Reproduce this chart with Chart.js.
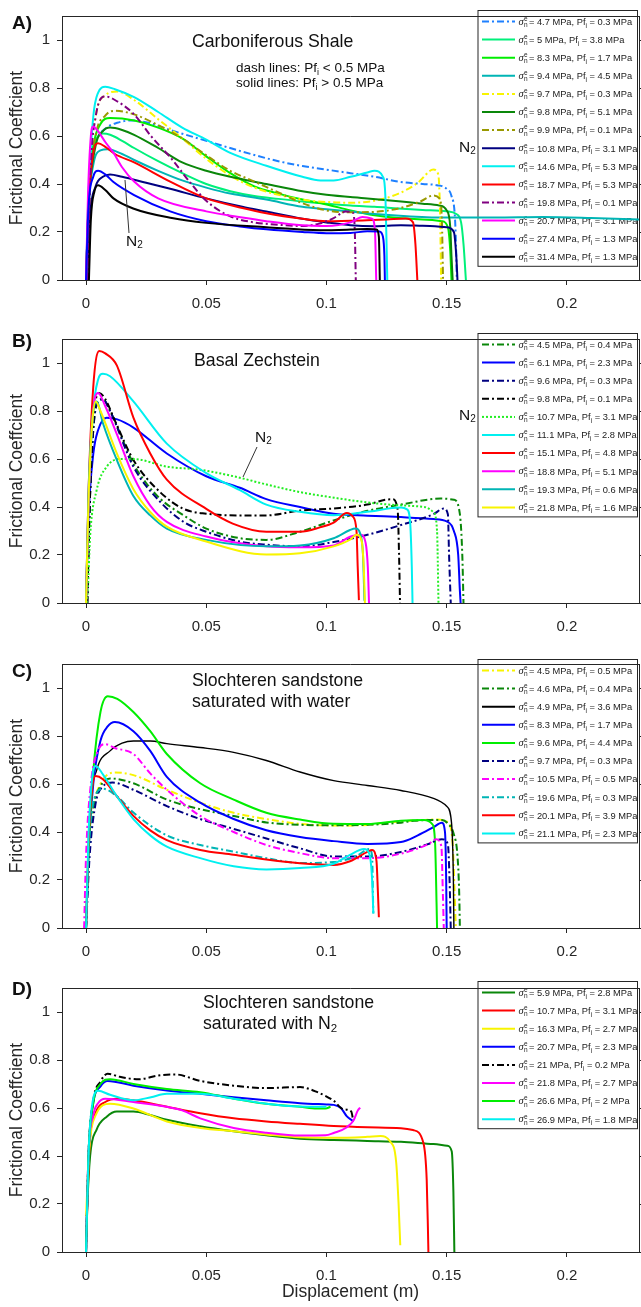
<!DOCTYPE html>
<html><head><meta charset="utf-8">
<script src="https://cdn.jsdelivr.net/npm/chart.js@4"></script>
<style>
html,body{margin:0;padding:0;background:#fff;}
body{width:641px;height:1307px;position:relative;overflow:hidden;}
.pn{position:absolute;left:0;width:641px;}
canvas{display:block;}
</style></head><body>
<div class="pn" id="wA"><canvas id="cA"></canvas></div>
<div class="pn" id="wB"><canvas id="cB"></canvas></div>
<div class="pn" id="wC"><canvas id="cC"></canvas></div>
<div class="pn" id="wD"><canvas id="cD"></canvas></div>
<script>
// ---------------- axes ----------------
const xTicks = [0, 0.05, 0.1, 0.15, 0.2];
const yTicks = [0, 0.2, 0.4, 0.6, 0.8, 1];

// ---------------- Panel A: Carboniferous Shale ----------------
const shaleSigma = [4.7, 5, 8.3, 9.4, 9.7, 9.8, 9.9, 10.8, 14.6, 18.7, 19.8, 20.7, 27.4, 31.4];
const shalePf    = [0.3, 3.8, 1.7, 4.5, 0.3, 5.1, 0.1, 3.1, 5.3, 5.3, 0.1, 3.1, 1.3, 1.3];
const shale47  = [[0.0005,0],[0.001,0.25],[0.002,0.45],[0.004,0.57],[0.008,0.63],[0.013,0.655],[0.019,0.665],[0.026,0.655],[0.035,0.625],[0.05,0.58],[0.065,0.535],[0.08,0.495],[0.09,0.475],[0.1,0.46],[0.11,0.445],[0.12,0.43],[0.13,0.41],[0.14,0.4],[0.146,0.395],[0.15,0.38],[0.152,0.35],[0.1535,0.25],[0.154,0.1],[0.1542,0]];
const shale5   = [[0,0],[0.0008,0.3],[0.002,0.5],[0.004,0.58],[0.007,0.61],[0.01,0.605],[0.015,0.58],[0.02,0.55],[0.03,0.495],[0.04,0.445],[0.05,0.4],[0.06,0.37],[0.07,0.35],[0.08,0.338],[0.09,0.327],[0.1,0.318],[0.11,0.31],[0.12,0.305],[0.13,0.298],[0.14,0.292],[0.15,0.286],[0.154,0.275],[0.156,0.24],[0.157,0.15],[0.158,0]];
const shale83  = [[0,0],[0.001,0.3],[0.003,0.55],[0.006,0.65],[0.01,0.675],[0.02,0.665],[0.03,0.635],[0.04,0.59],[0.05,0.515],[0.06,0.445],[0.07,0.39],[0.08,0.36],[0.09,0.335],[0.1,0.315],[0.11,0.29],[0.12,0.27],[0.13,0.258],[0.14,0.252],[0.148,0.245],[0.1505,0.22],[0.1515,0.12],[0.152,0]];
const shale94  = [[0,0],[0.001,0.3],[0.003,0.48],[0.006,0.54],[0.009,0.545],[0.015,0.525],[0.02,0.5],[0.03,0.455],[0.04,0.415],[0.05,0.385],[0.06,0.36],[0.075,0.335],[0.09,0.305],[0.1,0.295],[0.11,0.285],[0.12,0.275],[0.135,0.265],[0.15,0.26],[0.17,0.26],[0.19,0.262],[0.21,0.258],[0.235,0.25]];
const shale97  = [[0.0008,0],[0.0015,0.4],[0.004,0.68],[0.008,0.77],[0.013,0.785],[0.02,0.75],[0.03,0.67],[0.04,0.59],[0.05,0.505],[0.06,0.435],[0.07,0.385],[0.08,0.355],[0.09,0.335],[0.1,0.325],[0.11,0.322],[0.12,0.33],[0.13,0.36],[0.138,0.405],[0.1445,0.46],[0.1465,0.44],[0.1472,0.3],[0.1477,0]];
const shale98  = [[0,0],[0.001,0.3],[0.004,0.56],[0.007,0.62],[0.01,0.635],[0.015,0.625],[0.02,0.605],[0.03,0.55],[0.04,0.49],[0.05,0.455],[0.06,0.43],[0.075,0.4],[0.09,0.37],[0.1,0.355],[0.117,0.34],[0.13,0.328],[0.14,0.318],[0.147,0.31],[0.15,0.29],[0.1515,0.22],[0.152,0.1],[0.1525,0]];
const shale99  = [[0.0008,0],[0.0015,0.35],[0.004,0.6],[0.008,0.685],[0.012,0.705],[0.02,0.69],[0.03,0.645],[0.04,0.59],[0.05,0.52],[0.06,0.455],[0.07,0.41],[0.08,0.365],[0.09,0.32],[0.1,0.29],[0.11,0.282],[0.12,0.284],[0.13,0.298],[0.139,0.327],[0.1445,0.352],[0.147,0.34],[0.148,0.25],[0.1485,0]];
const shale108 = [[0.0005,0],[0.0015,0.25],[0.004,0.39],[0.007,0.43],[0.01,0.44],[0.015,0.43],[0.025,0.405],[0.035,0.38],[0.05,0.34],[0.065,0.305],[0.075,0.285],[0.09,0.255],[0.1,0.24],[0.11,0.228],[0.12,0.224],[0.131,0.228],[0.14,0.226],[0.15,0.22],[0.153,0.2],[0.154,0.1],[0.1545,0]];
const shale146 = [[0,0],[0.001,0.35],[0.003,0.68],[0.005,0.78],[0.008,0.805],[0.012,0.795],[0.02,0.762],[0.03,0.7],[0.04,0.635],[0.05,0.585],[0.06,0.53],[0.075,0.476],[0.09,0.43],[0.0975,0.415],[0.103,0.415],[0.11,0.43],[0.117,0.448],[0.12,0.455],[0.1235,0.43],[0.1245,0.35],[0.125,0.15],[0.1253,0]];
const shale187 = [[0,0],[0.001,0.3],[0.003,0.53],[0.005,0.57],[0.008,0.555],[0.012,0.525],[0.02,0.49],[0.035,0.41],[0.05,0.34],[0.065,0.3],[0.075,0.278],[0.09,0.255],[0.1,0.245],[0.115,0.248],[0.125,0.252],[0.133,0.256],[0.136,0.24],[0.137,0.15],[0.1378,0]];
const shale198 = [[0.0008,0],[0.0015,0.35],[0.004,0.68],[0.008,0.765],[0.012,0.75],[0.02,0.69],[0.027,0.6],[0.036,0.5],[0.043,0.41],[0.05,0.33],[0.06,0.265],[0.07,0.24],[0.08,0.23],[0.09,0.225],[0.097,0.235],[0.103,0.258],[0.108,0.285],[0.111,0.28],[0.1118,0.2],[0.1122,0]];
const shale207 = [[0,0],[0.0008,0.35],[0.002,0.6],[0.003,0.64],[0.005,0.62],[0.008,0.575],[0.0114,0.53],[0.015,0.47],[0.02,0.41],[0.03,0.34],[0.05,0.286],[0.065,0.26],[0.075,0.245],[0.09,0.228],[0.1,0.225],[0.11,0.24],[0.115,0.262],[0.119,0.255],[0.1202,0.2],[0.1207,0]];
const shale274 = [[0,0],[0.001,0.3],[0.003,0.43],[0.005,0.455],[0.008,0.44],[0.0114,0.408],[0.02,0.354],[0.035,0.286],[0.05,0.245],[0.065,0.222],[0.075,0.211],[0.09,0.2],[0.1,0.195],[0.11,0.196],[0.117,0.203],[0.122,0.202],[0.1235,0.18],[0.1241,0.1],[0.1243,0]];
const shale314 = [[0.0012,0],[0.002,0.25],[0.0035,0.37],[0.005,0.395],[0.008,0.375],[0.0114,0.34],[0.0196,0.298],[0.0357,0.258],[0.05,0.238],[0.075,0.22],[0.0975,0.207],[0.11,0.21],[0.117,0.213],[0.1208,0.21],[0.1218,0.18],[0.1222,0]];
const shaleCurves = [shale47, shale5, shale83, shale94, shale97, shale98, shale99, shale108, shale146, shale187, shale198, shale207, shale274, shale314];
const shaleColors = ['#1e80ff','#00f07a','#00ee00','#00b5b5','#f8f400','#0a870a','#999900','#000080','#00f0f0','#ff0000','#800080','#ff00ff','#0000ff','#000000'];
const shaleStyle  = ['dd','s','s','s','dd','s','dd','s','s','s','dd','s','s','s'];

// ---------------- Panel B: Basal Zechstein ----------------
const zechSigma = [4.5, 6.1, 9.6, 9.8, 10.7, 11.1, 15.1, 18.8, 19.3, 21.8];
const zechPf    = [0.4, 2.3, 0.3, 0.1, 3.1, 2.8, 4.8, 5.1, 0.6, 1.6];
const zech45  = [[0.0005,0],[0.0015,0.4],[0.003,0.72],[0.005,0.84],[0.007,0.85],[0.01,0.8],[0.0197,0.58],[0.025,0.5],[0.031,0.433],[0.0406,0.365],[0.05,0.31],[0.064,0.27],[0.075,0.263],[0.089,0.297],[0.1033,0.345],[0.117,0.384],[0.131,0.41],[0.1475,0.435],[0.153,0.43],[0.1555,0.37],[0.1565,0.2],[0.157,0]];
const zech61  = [[0,0],[0.001,0.35],[0.003,0.62],[0.005,0.72],[0.0086,0.772],[0.013,0.765],[0.0197,0.731],[0.0336,0.623],[0.05,0.528],[0.064,0.48],[0.075,0.433],[0.089,0.4],[0.103,0.372],[0.117,0.364],[0.131,0.358],[0.1445,0.35],[0.15,0.34],[0.153,0.3],[0.1548,0.2],[0.1555,0.05],[0.1558,0]];
const zech96  = [[0.0005,0],[0.0015,0.4],[0.003,0.72],[0.005,0.84],[0.007,0.848],[0.01,0.8],[0.0197,0.568],[0.031,0.42],[0.0406,0.338],[0.05,0.297],[0.064,0.256],[0.075,0.243],[0.089,0.236],[0.103,0.254],[0.117,0.284],[0.131,0.325],[0.1445,0.37],[0.1488,0.394],[0.1505,0.37],[0.151,0.2],[0.1517,0]];
const zech98  = [[0.0005,0],[0.0015,0.4],[0.003,0.75],[0.0055,0.875],[0.008,0.85],[0.012,0.76],[0.0197,0.596],[0.031,0.46],[0.0406,0.392],[0.05,0.372],[0.064,0.365],[0.075,0.365],[0.089,0.385],[0.103,0.394],[0.117,0.41],[0.1244,0.43],[0.1275,0.432],[0.1296,0.39],[0.1302,0.2],[0.1306,0]];
const zech107 = [[0.0003,0],[0.0008,0.066],[0.0017,0.28],[0.0044,0.47],[0.0086,0.568],[0.0142,0.6],[0.0197,0.6],[0.0336,0.568],[0.0475,0.555],[0.0614,0.528],[0.075,0.494],[0.089,0.462],[0.103,0.439],[0.117,0.419],[0.131,0.407],[0.1407,0.4],[0.1445,0.378],[0.146,0.3],[0.1466,0]];
const zech111 = [[0,0],[0.001,0.4],[0.003,0.8],[0.005,0.93],[0.007,0.955],[0.01,0.945],[0.0197,0.84],[0.0336,0.664],[0.05,0.541],[0.064,0.47],[0.075,0.41],[0.089,0.38],[0.103,0.366],[0.117,0.38],[0.131,0.398],[0.1335,0.39],[0.1348,0.337],[0.1355,0.15],[0.1358,0]];
const zech151 = [[0,0],[0.001,0.45],[0.003,0.9],[0.0055,1.05],[0.008,1.04],[0.0128,0.99],[0.0197,0.772],[0.0267,0.623],[0.0336,0.514],[0.05,0.392],[0.061,0.331],[0.075,0.297],[0.089,0.297],[0.0973,0.315],[0.103,0.335],[0.1085,0.375],[0.111,0.36],[0.1125,0.3],[0.113,0.15],[0.1135,0.012]];
const zech188 = [[0,0],[0.001,0.4],[0.0025,0.75],[0.005,0.875],[0.008,0.82],[0.0128,0.704],[0.0197,0.528],[0.0267,0.406],[0.0336,0.338],[0.05,0.277],[0.075,0.236],[0.089,0.232],[0.103,0.24],[0.1098,0.276],[0.1142,0.284],[0.1163,0.25],[0.1172,0.15],[0.1177,0]];
const zech193 = [[0,0],[0.001,0.45],[0.0025,0.75],[0.0045,0.84],[0.007,0.75],[0.0128,0.596],[0.0197,0.446],[0.0267,0.365],[0.0336,0.31],[0.05,0.263],[0.075,0.236],[0.089,0.24],[0.103,0.27],[0.1098,0.304],[0.1121,0.31],[0.114,0.29],[0.1152,0.2],[0.1158,0.01]];
const zech218 = [[0,0],[0.001,0.42],[0.0025,0.74],[0.004,0.84],[0.006,0.8],[0.0128,0.623],[0.0197,0.474],[0.0267,0.379],[0.0336,0.318],[0.05,0.256],[0.075,0.202],[0.089,0.207],[0.103,0.236],[0.1098,0.264],[0.1125,0.284],[0.1146,0.26],[0.1155,0.15],[0.116,0]];
const zechCurves = [zech45, zech61, zech96, zech98, zech107, zech111, zech151, zech188, zech193, zech218];
const zechColors = ['#0a870a','#0000ff','#000080','#000000','#22ee22','#00f0f0','#ff0000','#ff00ff','#00b5b5','#f8f400'];
const zechStyle  = ['dd','s','dd','dd','dot','s','s','s','s','s'];

// ---------------- Panel C: Slochteren sandstone, water ----------------
const waterSigma = [4.5, 4.6, 4.9, 8.3, 9.6, 9.7, 10.5, 19.6, 20.1, 21.1];
const waterPf    = [0.5, 0.4, 3.6, 1.7, 4.4, 0.3, 0.5, 0.3, 3.9, 2.3];
const water45  = [[0,0],[0.001,0.3],[0.003,0.5],[0.006,0.6],[0.012,0.648],[0.0197,0.637],[0.0336,0.576],[0.0475,0.522],[0.0614,0.48],[0.075,0.454],[0.089,0.434],[0.103,0.427],[0.117,0.429],[0.1225,0.436],[0.1364,0.448],[0.146,0.452],[0.1505,0.44],[0.1525,0.35],[0.1533,0.15],[0.1538,0]];
const water46  = [[0,0],[0.001,0.3],[0.003,0.5],[0.006,0.59],[0.01,0.623],[0.0197,0.603],[0.0336,0.535],[0.0475,0.495],[0.0614,0.467],[0.075,0.44],[0.089,0.43],[0.103,0.428],[0.117,0.43],[0.131,0.439],[0.1364,0.447],[0.148,0.45],[0.1505,0.435],[0.153,0.39],[0.1545,0.3],[0.1552,0.15],[0.1555,0]];
const water49  = [[0,0],[0.0017,0.495],[0.0044,0.657],[0.01,0.738],[0.015,0.77],[0.0197,0.779],[0.0267,0.779],[0.0336,0.768],[0.0475,0.752],[0.0614,0.732],[0.075,0.698],[0.089,0.65],[0.103,0.614],[0.117,0.594],[0.131,0.573],[0.1445,0.54],[0.15,0.507],[0.152,0.44],[0.1528,0.2],[0.153,0]];
const water83  = [[0,0],[0.001,0.3],[0.003,0.6],[0.006,0.78],[0.009,0.84],[0.012,0.858],[0.0197,0.82],[0.0267,0.738],[0.0336,0.63],[0.0475,0.522],[0.0614,0.454],[0.075,0.407],[0.089,0.379],[0.103,0.362],[0.117,0.35],[0.131,0.358],[0.138,0.386],[0.1445,0.42],[0.148,0.439],[0.1493,0.4],[0.1498,0.2],[0.15,0]];
const water96  = [[0,0],[0.001,0.3],[0.003,0.65],[0.006,0.9],[0.009,0.966],[0.013,0.955],[0.0197,0.9],[0.0267,0.82],[0.0336,0.725],[0.0475,0.603],[0.0614,0.535],[0.075,0.48],[0.089,0.452],[0.103,0.434],[0.117,0.433],[0.131,0.447],[0.1405,0.45],[0.144,0.433],[0.1452,0.35],[0.1458,0.1],[0.146,0]];
const water97  = [[0,0],[0.0015,0.3],[0.004,0.52],[0.007,0.59],[0.011,0.606],[0.0197,0.576],[0.0336,0.508],[0.0475,0.454],[0.0614,0.413],[0.075,0.373],[0.089,0.332],[0.103,0.298],[0.117,0.298],[0.131,0.317],[0.1424,0.35],[0.148,0.37],[0.1505,0.35],[0.1512,0.2],[0.1517,0]];
const water105 = [[-0.0008,0],[0,0.3],[0.002,0.6],[0.005,0.74],[0.008,0.766],[0.012,0.75],[0.0197,0.725],[0.0267,0.644],[0.0336,0.576],[0.0475,0.467],[0.0614,0.4],[0.075,0.346],[0.089,0.312],[0.103,0.291],[0.117,0.291],[0.131,0.31],[0.1424,0.35],[0.1457,0.37],[0.1478,0.34],[0.1484,0.15],[0.1488,0]];
const water196 = [[0,0],[0.001,0.3],[0.003,0.52],[0.007,0.58],[0.0128,0.549],[0.0197,0.481],[0.0336,0.386],[0.0475,0.346],[0.0614,0.318],[0.075,0.291],[0.089,0.271],[0.103,0.275],[0.1125,0.3],[0.1178,0.329],[0.119,0.3],[0.1193,0.15],[0.1195,0.06]];
const water201 = [[0,0],[0.001,0.35],[0.0025,0.58],[0.004,0.633],[0.007,0.62],[0.0128,0.549],[0.0197,0.467],[0.0267,0.407],[0.0336,0.366],[0.0475,0.325],[0.0614,0.305],[0.075,0.285],[0.089,0.27],[0.103,0.263],[0.1098,0.278],[0.117,0.317],[0.119,0.325],[0.1208,0.28],[0.1214,0.15],[0.1218,0.045]];
const water211 = [[0,0],[0.001,0.38],[0.0025,0.62],[0.004,0.675],[0.007,0.64],[0.0128,0.549],[0.0197,0.454],[0.0267,0.386],[0.0336,0.339],[0.0475,0.291],[0.0614,0.257],[0.075,0.244],[0.089,0.25],[0.103,0.268],[0.1098,0.305],[0.1156,0.329],[0.1178,0.31],[0.119,0.2],[0.1195,0.061]];
const waterCurves = [water45, water46, water49, water83, water96, water97, water105, water196, water201, water211];
const waterColors = ['#f8f400','#0a870a','#000000','#0000ff','#00ee00','#000080','#ff00ff','#00b5b5','#ff0000','#00f0f0'];
const waterStyle  = ['dd','dd','s','s','s','dd','dd','dd','s','s'];

// ---------------- Panel D: Slochteren sandstone, N2 ----------------
const nitroSigma = [5.9, 10.7, 16.3, 20.7, 21, 21.8, 26.6, 26.9];
const nitroPf    = [2.8, 3.1, 2.7, 2.3, 0.2, 2.7, 2, 1.8];
const nitro59  = [[0,0],[0.0005,0.185],[0.0017,0.4],[0.0044,0.51],[0.0086,0.564],[0.0128,0.585],[0.0197,0.585],[0.0267,0.571],[0.0336,0.551],[0.0475,0.524],[0.0614,0.503],[0.075,0.486],[0.089,0.472],[0.103,0.467],[0.117,0.463],[0.131,0.459],[0.1445,0.45],[0.1502,0.443],[0.1521,0.42],[0.1528,0.25],[0.1532,0]];
const nitro107 = [[0,0.03],[0.0015,0.45],[0.004,0.58],[0.008,0.625],[0.013,0.639],[0.0197,0.632],[0.0336,0.605],[0.0475,0.578],[0.0614,0.557],[0.075,0.544],[0.089,0.534],[0.103,0.525],[0.117,0.52],[0.131,0.516],[0.136,0.508],[0.1403,0.455],[0.1417,0.3],[0.1422,0.1],[0.1424,0]];
const nitro163 = [[0,0.15],[0.0015,0.45],[0.004,0.57],[0.01,0.618],[0.0197,0.598],[0.0336,0.544],[0.0475,0.517],[0.0614,0.503],[0.075,0.49],[0.089,0.478],[0.103,0.476],[0.117,0.48],[0.1225,0.483],[0.1265,0.46],[0.129,0.374],[0.13,0.2],[0.1307,0.028]];
const nitro207 = [[0,0],[0.001,0.4],[0.003,0.62],[0.006,0.69],[0.009,0.713],[0.0197,0.693],[0.0336,0.673],[0.0475,0.659],[0.0614,0.645],[0.075,0.632],[0.089,0.62],[0.1,0.615],[0.103,0.613],[0.106,0.6],[0.1085,0.565],[0.1113,0.544]];
const nitro21  = [[0,0],[0.001,0.4],[0.003,0.63],[0.006,0.71],[0.009,0.743],[0.014,0.73],[0.022,0.72],[0.03,0.735],[0.037,0.74],[0.0475,0.713],[0.0614,0.693],[0.075,0.683],[0.089,0.687],[0.096,0.667],[0.103,0.63],[0.107,0.595],[0.1103,0.585],[0.1111,0.55]];
const nitro218 = [[0,0],[0.001,0.4],[0.003,0.57],[0.005,0.62],[0.008,0.639],[0.0197,0.625],[0.0336,0.605],[0.04,0.59],[0.0475,0.557],[0.0614,0.517],[0.075,0.497],[0.089,0.485],[0.0996,0.486],[0.103,0.496],[0.1085,0.52],[0.1113,0.549],[0.113,0.589],[0.114,0.602]];
const nitro266 = [[0,0],[0.001,0.4],[0.003,0.62],[0.006,0.7],[0.01,0.72],[0.0197,0.7],[0.0336,0.679],[0.0475,0.666],[0.0614,0.639],[0.075,0.618],[0.089,0.605],[0.096,0.598],[0.0996,0.598],[0.1017,0.605]];
const nitro269 = [[0,0],[0.001,0.4],[0.003,0.64],[0.005,0.672],[0.01,0.655],[0.0197,0.632],[0.027,0.645],[0.0336,0.659],[0.0475,0.659],[0.0614,0.639],[0.075,0.618],[0.089,0.606],[0.097,0.605],[0.1,0.605]];
const nitroCurves = [nitro59, nitro107, nitro163, nitro207, nitro21, nitro218, nitro266, nitro269];
const nitroColors = ['#0a870a','#ff0000','#f8f400','#0000ff','#000000','#ff00ff','#00ee00','#00f0f0'];
const nitroStyle  = ['s','s','s','s','dd','s','s','s'];

// ---------------- rendering ----------------
const FF = '"Liberation Sans", Arial, Helvetica, sans-serif';
const AX = '#262626';
Chart.defaults.font.family = FF;
const DASH = {s: [], dd: [7,3,2,3], dot: [2,2]};

function fmt(v){ return v === 0 ? '0' : String(+v.toFixed(2)); }

function rich(ctx, x, y, parts){
  for (const p of parts){
    ctx.font = (p.b ? 'bold ' : '') + p.s + 'px ' + FF;
    ctx.fillText(p.t, x, y + (p.dy || 0));
    x += ctx.measureText(p.t).width;
  }
}
function richW(ctx, x, y, parts){
  for (const p of parts){
    ctx.font = p.s + 'px ' + FF;
    ctx.fillText(p.t, x, y + (p.dy || 0));
    x += ctx.measureText(p.t).width;
  }
  return x;
}

const decor = {
  id: 'decor',
  beforeDatasetsDraw(chart, args, o){
    const ctx = chart.ctx, top = o.canvasTop;
    const n = chart.data.datasets.length, sp = 18.1;
    const L = 477.5, R = 638, T = o.legendTop - top;
    const H = 11.5 + (n - 1) * sp + 10;
    ctx.save();
    ctx.fillStyle = '#fff'; ctx.fillRect(L, T, R - L, H);
    ctx.strokeStyle = AX; ctx.lineWidth = 1; ctx.strokeRect(L + 0.5, T + 0.5, R - L - 1, H - 1);
    chart.data.datasets.forEach((ds, i) => {
      const y = T + 11.5 + i * sp;
      ctx.beginPath(); ctx.setLineDash(ds.borderDash || []);
      ctx.lineWidth = 2; ctx.strokeStyle = ds.borderColor;
      ctx.moveTo(L + 4.5, y); ctx.lineTo(L + 37.5, y); ctx.stroke();
      ctx.setLineDash([]);
      ctx.fillStyle = '#1a1a1a'; ctx.textBaseline = 'alphabetic';
      let x = L + 41;
      ctx.font = 'italic 10.5px "Liberation Serif", serif';
      ctx.fillText('σ', x, y + 3);
      x += ctx.measureText('σ').width + 0.3;
      ctx.font = '6.5px ' + FF;
      ctx.fillText('e', x, y - 0.7);
      ctx.fillText('n', x, y + 5.5);
      x += ctx.measureText('n').width + 1.3;
      richW(ctx, x, y, [
        {t: '= ' + ds.sig + ' MPa, Pf', s: 9.3, dy: 3.3},
        {t: 'i', s: 6.5, dy: 6},
        {t: ' = ' + ds.pf + ' MPa', s: 9.3, dy: 3.3}
      ]);
    });
    ctx.restore();
  },
  afterDatasetsDraw(chart, args, o){
    const ctx = chart.ctx, ca = chart.chartArea, top = o.canvasTop;
    ctx.save();
    ctx.strokeStyle = AX; ctx.lineWidth = 1;
    ctx.beginPath();
    ctx.moveTo(ca.left, Math.round(ca.top) + 0.5); ctx.lineTo(ca.right + 0.5, Math.round(ca.top) + 0.5);
    ctx.moveTo(Math.round(ca.right) + 0.5, ca.top); ctx.lineTo(Math.round(ca.right) + 0.5, ca.bottom);
    const ys = chart.scales.y;
    for (const v of yTicks){
      const py = Math.round(ys.getPixelForValue(v)) + 0.5;
      ctx.moveTo(ca.right, py); ctx.lineTo(ca.right + 5, py);
    }
    ctx.stroke();
    ctx.fillStyle = '#111'; ctx.textBaseline = 'alphabetic';
    for (const t of o.texts){ rich(ctx, t.x, t.y - top, t.parts); }
    ctx.strokeStyle = '#333'; ctx.lineWidth = 1;
    for (const l of o.lines){
      ctx.beginPath(); ctx.moveTo(l[0], l[1] - top); ctx.lineTo(l[2], l[3] - top); ctx.stroke();
    }
    ctx.restore();
  }
};

function N2(x, y){ return {x, y, parts: [{t: 'N', s: 15.5}, {t: '2', s: 10, dy: 2}]}; }

function makePanel(id, wrapId, top, height, curves, sig, pf, colors, style, extra){
  const wrap = document.getElementById(wrapId);
  wrap.style.top = top + 'px'; wrap.style.height = height + 'px';
  const canvas = document.getElementById(id);
  canvas.width = 641; canvas.height = height;
  canvas.style.width = '641px'; canvas.style.height = height + 'px';
  const xH = height - 280;
  const datasets = curves.map((c, i) => ({
    data: c, sig: sig[i], pf: pf[i],
    borderColor: colors[i], backgroundColor: colors[i],
    borderDash: DASH[style[i]],
    borderWidth: extra.thin && extra.thin.includes(i) ? 1.4 : 2,
    order: -i, fill: false, pointRadius: 0
  }));
  new Chart(canvas, {
    type: 'line',
    data: {datasets},
    options: {
      responsive: false, animation: false, devicePixelRatio: 1,
      layout: {padding: {top: 9, right: 2, left: 0, bottom: 0}},
      events: [],
      elements: {point: {radius: 0}, line: {cubicInterpolationMode: 'monotone', borderCapStyle: 'butt'}},
      plugins: {
        legend: {display: false}, tooltip: {enabled: false},
        decor: {canvasTop: top, legendTop: extra.legendTop, texts: extra.texts, lines: extra.lines || []}
      },
      scales: {
        x: {
          type: 'linear', min: -0.01, max: 0.23,
          afterFit: s => { s.height = xH; },
          afterBuildTicks: s => { s.ticks = xTicks.map(v => ({value: v})); },
          ticks: {font: {size: 15}, color: AX, padding: 10, maxRotation: 0, autoSkip: false, callback: v => fmt(v)},
          grid: {drawOnChartArea: false, drawTicks: true, tickLength: 5, color: AX},
          border: {display: true, color: AX, width: 1},
          title: {display: !!extra.xTitle, text: 'Displacement (m)', color: AX, font: {size: 17.5}, padding: {top: 0, bottom: 4}}
        },
        y: {
          min: 0, max: 1.1,
          afterFit: s => { s.width = 62; },
          afterBuildTicks: s => { s.ticks = yTicks.map(v => ({value: v})); },
          ticks: {font: {size: 15}, color: AX, padding: 7, callback: v => fmt(v)},
          grid: {drawOnChartArea: false, drawTicks: true, tickLength: 5, color: AX},
          border: {display: true, color: AX, width: 1},
          title: {display: true, text: 'Frictional Coeffcient', color: AX, font: {size: 17.5}, padding: {top: 7, bottom: 0}}
        }
      }
    },
    plugins: [decor]
  });
}

makePanel('cA', 'wA', 0, 323, shaleCurves, shaleSigma, shalePf, shaleColors, shaleStyle, {
  legendTop: 10,
  texts: [
    {x: 12, y: 29, parts: [{t: 'A)', s: 19, b: true}]},
    {x: 192, y: 47, parts: [{t: 'Carboniferous Shale', s: 17.7}]},
    {x: 236, y: 72, parts: [{t: 'dash lines: Pf', s: 13.5}, {t: 'i', s: 9, dy: 3}, {t: ' < 0.5 MPa', s: 13.5}]},
    {x: 236, y: 87, parts: [{t: 'solid lines: Pf', s: 13.5}, {t: 'i', s: 9, dy: 3}, {t: ' > 0.5 MPa', s: 13.5}]},
    N2(126, 246), N2(459, 152)
  ],
  lines: [[129, 233, 125, 180]]
});
makePanel('cB', 'wB', 323, 325, zechCurves, zechSigma, zechPf, zechColors, zechStyle, {
  legendTop: 333,
  texts: [
    {x: 12, y: 347, parts: [{t: 'B)', s: 19, b: true}]},
    {x: 194, y: 366, parts: [{t: 'Basal Zechstein', s: 17.7}]},
    N2(255, 442), N2(459, 420)
  ],
  lines: [[257, 447, 243, 477]]
});
makePanel('cC', 'wC', 648, 324, waterCurves, waterSigma, waterPf, waterColors, waterStyle, {
  legendTop: 659, thin: [2],
  texts: [
    {x: 12, y: 677, parts: [{t: 'C)', s: 19, b: true}]},
    {x: 192, y: 686, parts: [{t: 'Slochteren sandstone', s: 17.7}]},
    {x: 192, y: 707, parts: [{t: 'saturated with water', s: 17.7}]}
  ]
});
makePanel('cD', 'wD', 972, 335, nitroCurves, nitroSigma, nitroPf, nitroColors, nitroStyle, {
  legendTop: 981, xTitle: true,
  texts: [
    {x: 12, y: 995, parts: [{t: 'D)', s: 19, b: true}]},
    {x: 203, y: 1008, parts: [{t: 'Slochteren sandstone', s: 17.7}]},
    {x: 203, y: 1029, parts: [{t: 'saturated with N', s: 17.7}, {t: '2', s: 11.5, dy: 2.5}]}
  ]
});
</script>
</body></html>
